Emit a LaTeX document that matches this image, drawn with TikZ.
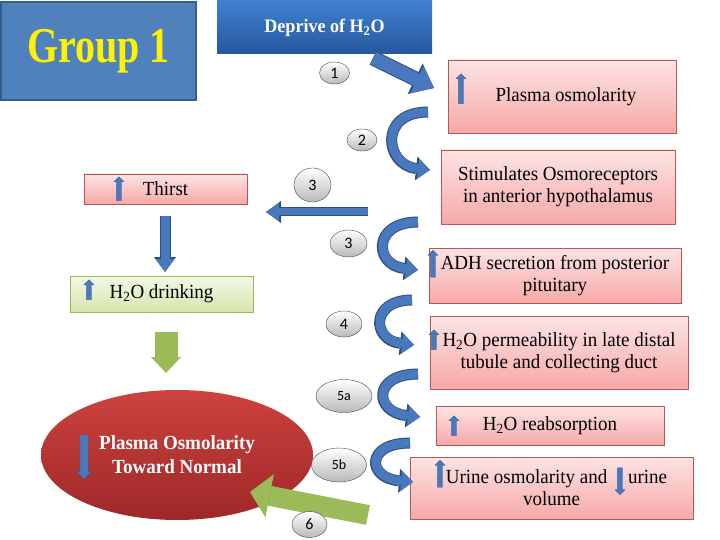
\documentclass[tikz,border=0pt]{standalone}
\usepackage{fontspec}
\setmainfont[FakeStretch=0.95]{Liberation Serif}
\newfontfamily\titlefont[FakeStretch=0.8]{Liberation Serif}
\newfontfamily\numfont{Carlito}
\usetikzlibrary{arrows.meta,positioning,shapes.geometric,shapes.arrows}

\definecolor{groupblue}{RGB}{79,129,189}
\definecolor{groupline}{RGB}{56,93,138}
\definecolor{deprtop}{RGB}{64,128,206}
\definecolor{deprbot}{RGB}{38,88,158}
\definecolor{pinktop}{RGB}{253,228,228}
\definecolor{pinkbot}{RGB}{247,168,168}
\definecolor{pinkline}{RGB}{185,85,82}
\definecolor{greentop}{RGB}{243,248,230}
\definecolor{greenbot}{RGB}{214,230,172}
\definecolor{greenline}{RGB}{155,187,89}
\definecolor{arrowgreen}{RGB}{155,187,89}
\definecolor{arrowblue}{RGB}{74,120,188}
\definecolor{arrowline}{RGB}{44,78,130}
\definecolor{numgray}{RGB}{185,185,185}
\definecolor{numline}{RGB}{70,70,70}
\definecolor{redtop}{RGB}{204,66,62}
\definecolor{redbot}{RGB}{158,40,40}

\begin{document}
\begin{tikzpicture}[x=1pt,y=-1pt,
            txt/.style={font=\fontsize{20}{22}\selectfont,align=center,inner sep=0pt},
            pinkbox/.style={draw=pinkline,top color=pinktop,bottom color=pinkbot,txt},
            greenbox/.style={draw=greenline,top color=greentop,bottom color=greenbot,txt},
            num/.style={ellipse,draw=numline,thin,top color=white,bottom color=numgray,inner sep=0pt,font=\numfont\fontsize{16}{16}\selectfont},
            smallarrow/.style={single arrow,draw=arrowline,fill=arrowblue,very thin,inner xsep=0pt,inner ysep=2.5pt,single arrow head extend=2.5pt},
            curved/.style={draw=arrowblue,line width=9pt,-{Triangle[width=20pt,length=12pt,line width=0pt]},
                preaction={draw=arrowline,line width=11pt,-{Triangle[width=24pt,length=14pt,line width=0pt]}}},
            bigarrow/.style={draw=arrowblue,line width=13pt,-{Triangle[width=30pt,length=19pt,line width=0pt]},
                preaction={draw=arrowline,line width=15pt,-{Triangle[width=34pt,length=21pt,line width=0pt]}}},
            leftarrow/.style={draw=arrowblue,line width=7pt,-{Triangle[width=18pt,length=13pt,line width=0pt]},
                preaction={draw=arrowline,line width=9pt,-{Triangle[width=22pt,length=15pt,line width=0pt]}}},
            downarrow/.style={draw=arrowblue,line width=9pt,-{Triangle[width=18pt,length=13pt,line width=0pt]},
                preaction={draw=arrowline,line width=11pt,-{Triangle[width=22pt,length=15pt,line width=0pt]}}},
            greenarrow/.style={draw=arrowgreen,line width=20pt,-{Triangle[width=44pt,length=20pt,line width=0pt]}}
          ]
          \useasboundingbox (0,0) rectangle (720,540);

          %title boxes
          \node[draw=groupline,line width=2pt,fill=groupblue,minimum width=195pt,minimum height=98pt,
                font=\titlefont\bfseries\fontsize{50}{50}\selectfont,text=yellow] (group) at (98.5,51) {Group 1};
          \node[top color=deprtop,bottom color=deprbot,minimum width=215pt,minimum height=53pt,
                font=\bfseries\fontsize{19}{21}\selectfont,text=white] (deprive) at (324.5,27.5) {Deprive of H\textsubscript{2}O};

          %right column
          \node[pinkbox,minimum width=228pt,minimum height=73pt] (plasma) at (562,96.5) {\hspace{8pt}Plasma osmolarity};
          \node[pinkbox,minimum width=234pt,minimum height=74pt] (stim) at (558,187) {Stimulates Osmoreceptors\\in anterior hypothalamus};
          \node[pinkbox,minimum width=252pt,minimum height=55pt] (adh) at (555,275.5) {ADH secretion from posterior\\pituitary};
          \node[pinkbox,minimum width=258pt,minimum height=73pt] (perm) at (559,352.5) {H\textsubscript{2}O permeability in late distal\\tubule and collecting duct};
          \node[pinkbox,minimum width=228pt,minimum height=39pt] (reab) at (550,425.5) {H\textsubscript{2}O reabsorption};
          \node[pinkbox,minimum width=283pt,minimum height=62pt] (urine) at (551.5,488) {\hspace{10pt}Urine osmolarity and\hspace{16pt} urine\\volume};

          %left column
          \node[pinkbox,minimum width=163pt,minimum height=30pt] (thirst) at (165.5,189) {Thirst};
          \node[greenbox,minimum width=183pt,minimum height=36pt] (drink) at (161.5,294) {H\textsubscript{2}O drinking};
          \node[ellipse,top color=redtop,bottom color=redbot,minimum width=272pt,minimum height=130pt,
                font=\bfseries\fontsize{20}{24}\selectfont,text=white,align=center] (normal) at (177,455) {Plasma Osmolarity\\Toward Normal};

          %small arrows in the boxes
          \node[smallarrow,rotate=90,minimum height=30pt] (upplasma) at (461,90) {};
          \node[smallarrow,rotate=90,minimum height=24pt] (upthirst) at (119,190) {};
          \node[smallarrow,rotate=90,minimum height=27pt] (upadh) at (433,265) {};
          \node[smallarrow,rotate=90,minimum height=20pt] (updrink) at (89,291) {};
          \node[smallarrow,rotate=90,minimum height=20pt] (upperm) at (434,341) {};
          \node[smallarrow,rotate=90,minimum height=20pt] (upreab) at (454,427) {};
          \node[smallarrow,rotate=90,minimum height=27pt] (upurine) at (440,475) {};
          \node[smallarrow,rotate=-90,minimum height=27pt] (downurine) at (620,480) {};
          \node[smallarrow,rotate=-90,minimum height=44pt,inner ysep=4pt,single arrow head extend=3.5pt] (downnormal) at (84,455) {};

          %arrow ends
          \coordinate (a1s) at (373,58);  \coordinate (a1e) at (434,88);
          \coordinate (a2s) at (428,112); \coordinate (a2e) at (430,170);
          \coordinate (a3s) at (418,222); \coordinate (a3e) at (418,270);
          \coordinate (a4s) at (412,300); \coordinate (a4e) at (414,345);
          \coordinate (a5s) at (418,374); \coordinate (a5e) at (420,417);
          \coordinate (a6s) at (410,443); \coordinate (a6e) at (413,482);
          \coordinate (ls) at (368,212);  \coordinate (le) at (266,212);
          \coordinate (ds) at (165,216);  \coordinate (de) at (165,272);
          \coordinate (gs) at (166,332);  \coordinate (ge) at (166,373);
          \coordinate (g6s) at (368,515); \coordinate (g6e) at (250,492);

          %arrows
          \draw[bigarrow] (a1s) -- (a1e);
          \draw[curved] (a2s) .. controls (378,112) and (385,165) .. (a2e);
          \draw[curved] (a3s) .. controls (372,222) and (374,265) .. (a3e);
          \draw[curved] (a4s) .. controls (370,300) and (372,340) .. (a4e);
          \draw[curved] (a5s) .. controls (372,374) and (374,412) .. (a5e);
          \draw[curved] (a6s) .. controls (365,443) and (367,478) .. (a6e);
          \draw[leftarrow] (ls) -- (le);
          \draw[downarrow] (ds) -- (de);
          \draw[greenarrow,line width=23pt,-{Triangle[width=30pt,length=16pt,line width=0pt]}] (gs) -- (ge);
          \draw[greenarrow] (g6s) -- (g6e);

          %step numbers
          \node[num,minimum width=30pt,minimum height=22pt] (n1) at (334.5,73) {1};
          \node[num,minimum width=30pt,minimum height=22pt] (n2) at (362,140) {2};
          \node[num,minimum width=37pt,minimum height=34pt] (n3a) at (312.5,185) {3};
          \node[num,minimum width=37pt,minimum height=27pt] (n3b) at (348.5,243.5) {3};
          \node[num,minimum width=36pt,minimum height=26pt] (n4) at (344,324) {4};
          \node[num,minimum width=56pt,minimum height=33pt,font=\numfont\fontsize{14}{14}\selectfont] (n5a) at (344,396) {5a};
          \node[num,minimum width=55pt,minimum height=34pt,font=\numfont\fontsize{14}{14}\selectfont] (n5b) at (339,465) {5b};
          \node[num,minimum width=35pt,minimum height=26pt] (n6) at (309.5,524.5) {6};

      \end{tikzpicture}
\end{document}
